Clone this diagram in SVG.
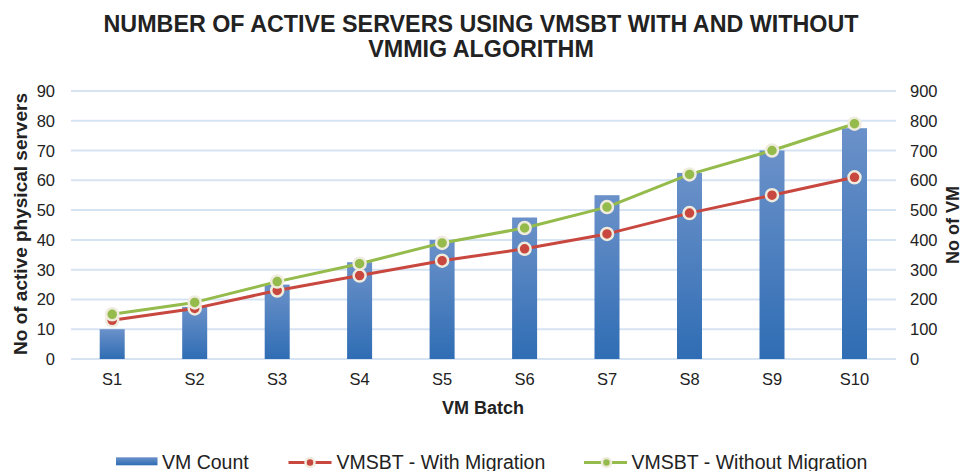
<svg xmlns="http://www.w3.org/2000/svg" width="964" height="471" viewBox="0 0 964 471">
<defs>
<linearGradient id="barg" x1="0" y1="0" x2="0" y2="1">
<stop offset="0" stop-color="#6b91c9"/>
<stop offset="1" stop-color="#2f6db4"/>
</linearGradient>
<style>
text{font-family:"Liberation Sans",Arial,sans-serif;fill:#222}
.title{font-size:23.3px;font-weight:bold;text-anchor:middle}
.tl{font-size:16.5px;text-anchor:end}
.tr{font-size:16.5px;text-anchor:start}
.tx{font-size:16.5px;text-anchor:middle}
.ax{font-size:18px;font-weight:bold;text-anchor:middle}
.lg{font-size:19.5px}
.grid{stroke:#d6e3f3;stroke-width:2}
.bar{fill:url(#barg)}
.red{fill:none;stroke:#c8473f;stroke-width:3;stroke-linejoin:round}
.green{fill:none;stroke:#94bb4b;stroke-width:3;stroke-linejoin:round}
.mr{fill:#c8473f;stroke:#efebdd;stroke-width:2.5}
.mg{fill:#94bb4b;stroke:#efebdd;stroke-width:2.5}
</style>
</defs>
<rect width="964" height="471" fill="#fff"/>
<g id="title">
<text class="title" x="481" y="32">NUMBER OF ACTIVE SERVERS USING VMSBT WITH AND WITHOUT</text>
<text class="title" x="481" y="57">VMMIG ALGORITHM</text>
</g>
<g id="gridlines">
<line class="grid" x1="71" y1="359" x2="896" y2="359"/>
<line class="grid" x1="71" y1="329.2" x2="896" y2="329.2"/>
<line class="grid" x1="71" y1="299.4" x2="896" y2="299.4"/>
<line class="grid" x1="71" y1="269.7" x2="896" y2="269.7"/>
<line class="grid" x1="71" y1="239.9" x2="896" y2="239.9"/>
<line class="grid" x1="71" y1="210.1" x2="896" y2="210.1"/>
<line class="grid" x1="71" y1="180.3" x2="896" y2="180.3"/>
<line class="grid" x1="71" y1="150.5" x2="896" y2="150.5"/>
<line class="grid" x1="71" y1="120.8" x2="896" y2="120.8"/>
<line class="grid" x1="71" y1="91" x2="896" y2="91"/>
</g>
<g id="left-axis">
<text class="tl" x="55" y="365">0</text>
<text class="tl" x="55" y="335.2">10</text>
<text class="tl" x="55" y="305.4">20</text>
<text class="tl" x="55" y="275.7">30</text>
<text class="tl" x="55" y="245.9">40</text>
<text class="tl" x="55" y="216.1">50</text>
<text class="tl" x="55" y="186.3">60</text>
<text class="tl" x="55" y="156.5">70</text>
<text class="tl" x="55" y="126.8">80</text>
<text class="tl" x="55" y="97">90</text>
<text class="ax" style="font-size:19px" transform="translate(27,224) rotate(-90)">No of active physical servers</text>
</g>
<g id="right-axis">
<text class="tr" x="910" y="365">0</text>
<text class="tr" x="910" y="335.2">100</text>
<text class="tr" x="910" y="305.4">200</text>
<text class="tr" x="910" y="275.7">300</text>
<text class="tr" x="910" y="245.9">400</text>
<text class="tr" x="910" y="216.1">500</text>
<text class="tr" x="910" y="186.3">600</text>
<text class="tr" x="910" y="156.5">700</text>
<text class="tr" x="910" y="126.8">800</text>
<text class="tr" x="910" y="97">900</text>
<text class="ax" transform="translate(959,225) rotate(-90)">No of VM</text>
</g>
<g id="x-axis">
<text class="tx" x="112.2" y="385">S1</text>
<text class="tx" x="194.7" y="385">S2</text>
<text class="tx" x="277.2" y="385">S3</text>
<text class="tx" x="359.6" y="385">S4</text>
<text class="tx" x="442.1" y="385">S5</text>
<text class="tx" x="524.6" y="385">S6</text>
<text class="tx" x="607" y="385">S7</text>
<text class="tx" x="689.5" y="385">S8</text>
<text class="tx" x="772" y="385">S9</text>
<text class="tx" x="854.5" y="385">S10</text>
<text class="ax" x="483" y="414">VM Batch</text>
</g>
<g id="bars">
<rect class="bar" x="99.7" y="329.2" width="25" height="29.8"/>
<rect class="bar" x="182.2" y="306.9" width="25" height="52.1"/>
<rect class="bar" x="264.7" y="284.6" width="25" height="74.4"/>
<rect class="bar" x="347.1" y="262.2" width="25" height="96.8"/>
<rect class="bar" x="429.6" y="239.9" width="25" height="119.1"/>
<rect class="bar" x="512.1" y="217.5" width="25" height="141.5"/>
<rect class="bar" x="594.5" y="195.2" width="25" height="163.8"/>
<rect class="bar" x="677" y="172.9" width="25" height="186.1"/>
<rect class="bar" x="759.5" y="150.5" width="25" height="208.5"/>
<rect class="bar" x="842" y="128.2" width="25" height="230.8"/>
</g>
<g id="connectors">
<polyline class="red" points="112.2,320.3 194.7,308.4 277.2,290.5 359.6,275.6 442.1,260.7 524.6,248.8 607,233.9 689.5,213.1 772,195.2 854.5,177.3"/>
<g id="red-markers">
<circle class="mr" cx="112.2" cy="320.3" r="6"/>
<circle class="mr" cx="194.7" cy="308.4" r="6"/>
<circle class="mr" cx="277.2" cy="290.5" r="6"/>
<circle class="mr" cx="359.6" cy="275.6" r="6"/>
<circle class="mr" cx="442.1" cy="260.7" r="6"/>
<circle class="mr" cx="524.6" cy="248.8" r="6"/>
<circle class="mr" cx="607" cy="233.9" r="6"/>
<circle class="mr" cx="689.5" cy="213.1" r="6"/>
<circle class="mr" cx="772" cy="195.2" r="6"/>
<circle class="mr" cx="854.5" cy="177.3" r="6"/>
</g>
<polyline class="green" points="112.2,314.3 194.7,302.4 277.2,281.6 359.6,263.7 442.1,242.9 524.6,228 607,207.1 689.5,174.4 772,150.5 854.5,123.7"/>
<g id="green-markers">
<circle class="mg" cx="112.2" cy="314.3" r="6"/>
<circle class="mg" cx="194.7" cy="302.4" r="6"/>
<circle class="mg" cx="277.2" cy="281.6" r="6"/>
<circle class="mg" cx="359.6" cy="263.7" r="6"/>
<circle class="mg" cx="442.1" cy="242.9" r="6"/>
<circle class="mg" cx="524.6" cy="228" r="6"/>
<circle class="mg" cx="607" cy="207.1" r="6"/>
<circle class="mg" cx="689.5" cy="174.4" r="6"/>
<circle class="mg" cx="772" cy="150.5" r="6"/>
<circle class="mg" cx="854.5" cy="123.7" r="6"/>
</g>
</g>
<g id="legend">
<rect class="bar" x="116" y="457.3" width="41.5" height="8"/>
<text class="lg" x="162" y="468.5">VM Count</text>
<line class="red" x1="288.5" y1="462.5" x2="331.5" y2="462.5"/>
<circle class="mr" cx="310" cy="462.5" r="4.5" stroke-width="2"/>
<text class="lg" x="336.5" y="468.5">VMSBT - With Migration</text>
<line class="green" x1="584" y1="462.5" x2="627" y2="462.5"/>
<circle class="mg" cx="606.5" cy="462.5" r="4.5" stroke-width="2"/>
<text class="lg" x="631.5" y="468.5">VMSBT - Without Migration</text>
</g>
</svg>
